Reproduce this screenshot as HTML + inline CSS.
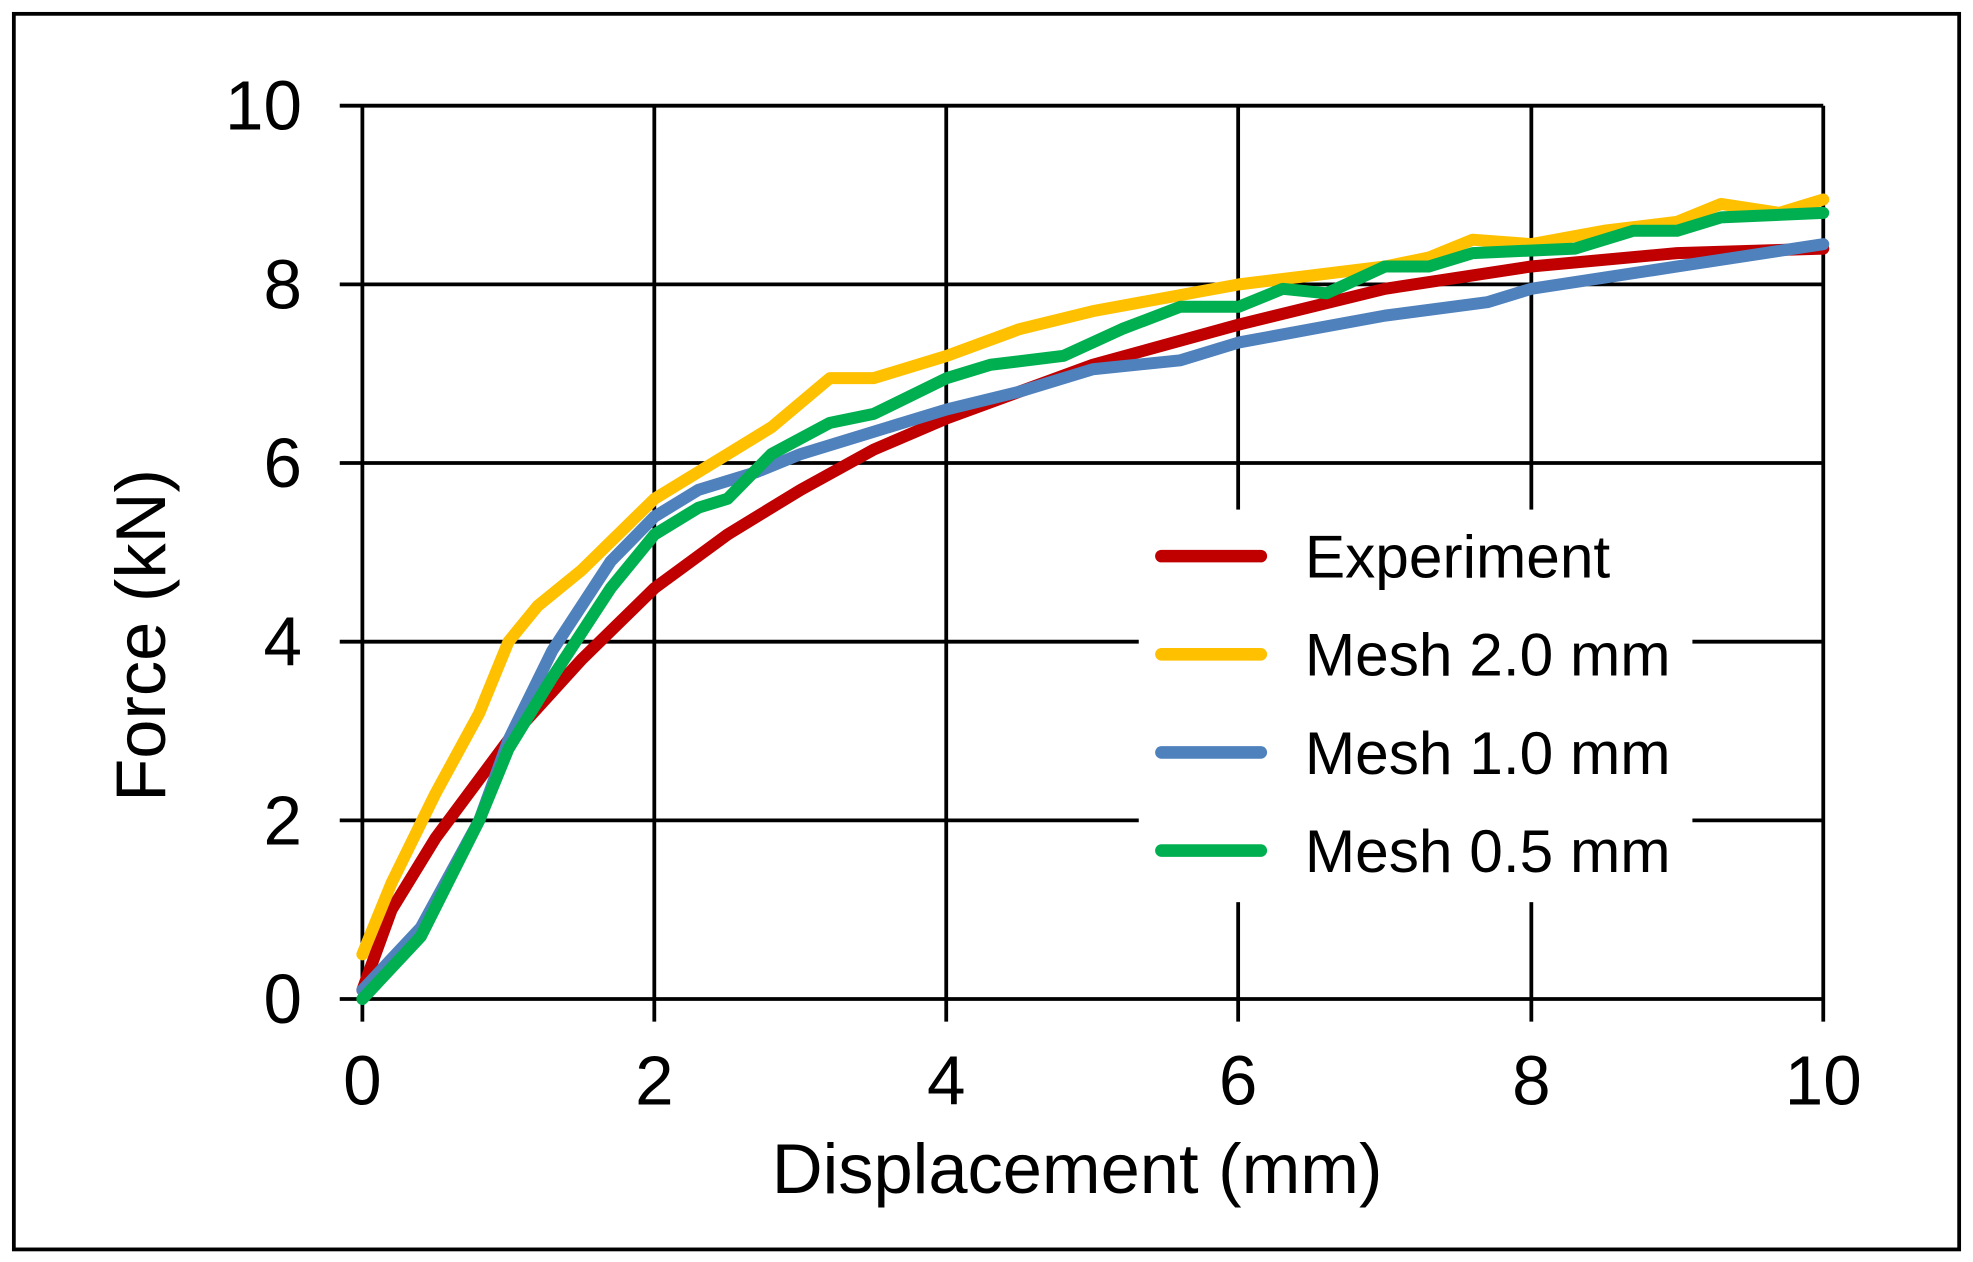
<!DOCTYPE html>
<html><head><meta charset="utf-8"><style>
html,body{margin:0;padding:0;background:#fff;}
svg{display:block;}
text{font-family:"Liberation Sans",Arial,sans-serif;fill:#000;}
</style></head><body>
<svg width="1973" height="1262" viewBox="0 0 1568 1003" preserveAspectRatio="none" xmlns="http://www.w3.org/2000/svg">
<rect x="0" y="0" width="1568" height="1003" fill="#fff"/>
<rect x="11" y="11" width="1546" height="982" fill="none" stroke="#000" stroke-width="3"/>
<g stroke="#000" stroke-width="3">
<line x1="270" y1="84" x2="1449" y2="84"/>
<line x1="270" y1="226" x2="1449" y2="226"/>
<line x1="270" y1="368" x2="1449" y2="368"/>
<line x1="270" y1="510" x2="1449" y2="510"/>
<line x1="270" y1="652" x2="1449" y2="652"/>
<line x1="270" y1="794" x2="1449" y2="794"/>
<line x1="288" y1="84" x2="288" y2="812"/>
<line x1="520" y1="84" x2="520" y2="812"/>
<line x1="752" y1="84" x2="752" y2="812"/>
<line x1="984" y1="84" x2="984" y2="812"/>
<line x1="1217" y1="84" x2="1217" y2="812"/>
<line x1="1449" y1="84" x2="1449" y2="812"/>
</g>
<rect x="905" y="405" width="440" height="312" fill="#fff"/>
<g transform="translate(288,794) scale(116.1,-71)" fill="none" stroke-width="12" stroke-linejoin="round" stroke-linecap="round">
<polyline vector-effect="non-scaling-stroke" stroke="#C00000" points="0,0.1 0.2,1.0 0.5,1.8 1,2.9 1.5,3.8 2,4.6 2.5,5.2 3,5.7 3.5,6.15 4,6.5 5,7.1 6,7.55 7,7.95 8,8.2 9,8.35 10,8.4"/>
<polyline vector-effect="non-scaling-stroke" stroke="#FFC000" points="0,0.5 0.2,1.3 0.5,2.3 0.8,3.2 1,4.0 1.2,4.4 1.5,4.8 2,5.6 2.5,6.1 2.8,6.4 3.2,6.95 3.5,6.95 4,7.2 4.5,7.5 5,7.7 6,8.0 7,8.2 7.3,8.3 7.6,8.5 8,8.45 8.5,8.6 9,8.7 9.3,8.9 9.7,8.8 10,8.95"/>
<polyline vector-effect="non-scaling-stroke" stroke="#4F81BD" points="0,0.1 0.4,0.8 0.8,2.0 1,2.9 1.3,3.9 1.7,4.9 2,5.4 2.3,5.7 2.7,5.9 3,6.1 3.5,6.35 4,6.6 4.5,6.8 5,7.05 5.6,7.15 6,7.35 6.5,7.5 7,7.65 7.7,7.8 8,7.95 9,8.2 10,8.45"/>
<polyline vector-effect="non-scaling-stroke" stroke="#00B050" points="0,0 0.4,0.7 0.8,2.0 1,2.8 1.3,3.6 1.7,4.6 2,5.2 2.3,5.5 2.5,5.6 2.8,6.1 3.2,6.45 3.5,6.55 4,6.95 4.3,7.1 4.8,7.2 5.2,7.5 5.6,7.75 6,7.75 6.3,7.95 6.6,7.9 7,8.2 7.3,8.2 7.6,8.35 8.3,8.4 8.7,8.6 9,8.6 9.3,8.75 10,8.8"/>
</g>
<g stroke-width="10" stroke-linecap="round">
<line x1="923" y1="442" x2="1002" y2="442" stroke="#C00000"/>
<line x1="923" y1="520" x2="1002" y2="520" stroke="#FFC000"/>
<line x1="923" y1="598" x2="1002" y2="598" stroke="#4F81BD"/>
<line x1="923" y1="676" x2="1002" y2="676" stroke="#00B050"/>
</g>
<g font-size="48">
<text x="1037" y="459">Experiment</text>
<text x="1037" y="537">Mesh 2.0 mm</text>
<text x="1037" y="615">Mesh 1.0 mm</text>
<text x="1037" y="693">Mesh 0.5 mm</text>
</g>
<g font-size="55" text-anchor="end">
<text x="240" y="103">10</text>
<text x="240" y="245">8</text>
<text x="240" y="387">6</text>
<text x="240" y="529">4</text>
<text x="240" y="671">2</text>
<text x="240" y="813">0</text>
</g>
<g font-size="55" text-anchor="middle">
<text x="288" y="878">0</text>
<text x="520" y="878">2</text>
<text x="752" y="878">4</text>
<text x="984" y="878">6</text>
<text x="1217" y="878">8</text>
<text x="1449" y="878">10</text>
<text x="856" y="948" font-size="56">Displacement (mm)</text>
<text transform="translate(131,505) rotate(-90)" font-size="56">Force (kN)</text>
</g>
</svg>
</body></html>
